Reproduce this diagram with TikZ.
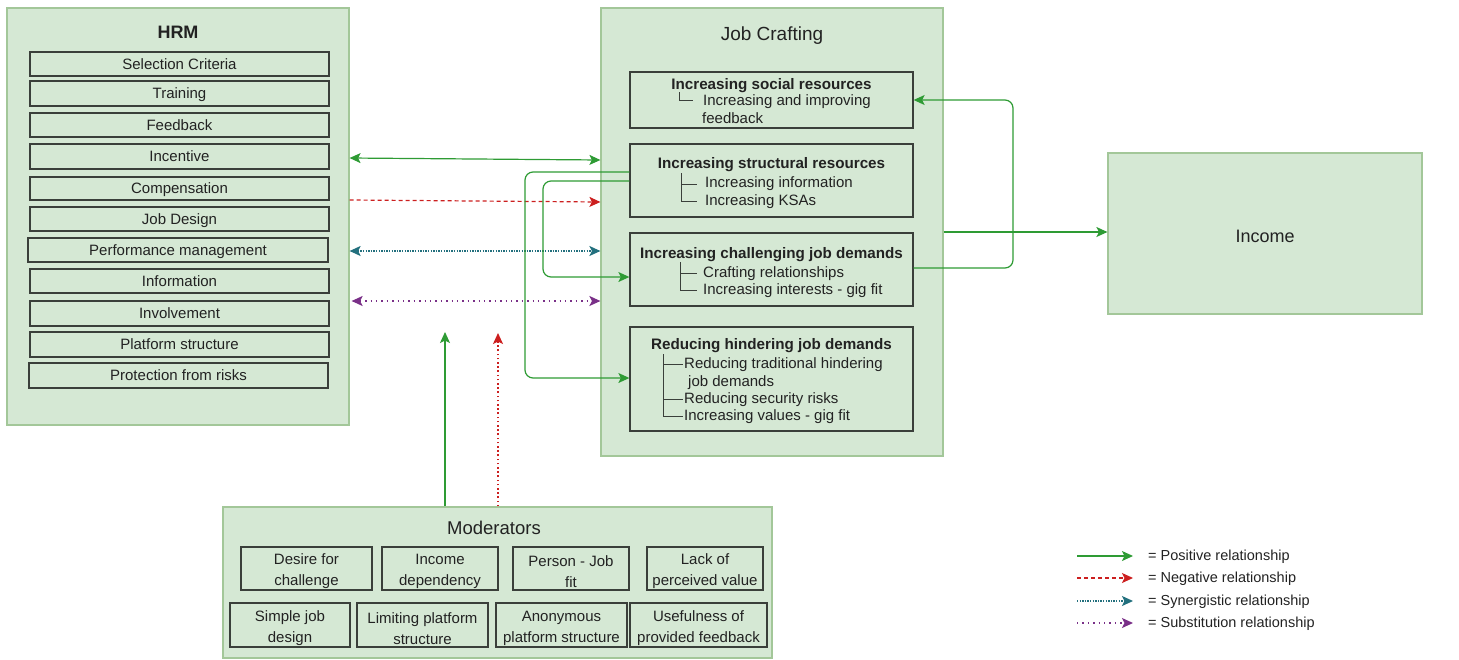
\documentclass[tikz,border=0pt]{standalone}
\usepackage{fontspec}
\setmainfont{Liberation Sans}
\usetikzlibrary{arrows.meta}

\definecolor{panelfill}{HTML}{D5E8D4}
\definecolor{panelline}{HTML}{A3C799}
\definecolor{boxline}{HTML}{3A3F3A}
\definecolor{inktext}{HTML}{222222}
\definecolor{poscol}{HTML}{2E9B34}
\definecolor{negcol}{HTML}{CC1F1F}
\definecolor{syncol}{HTML}{23707E}
\definecolor{subcol}{HTML}{7A3088}

\tikzset{
  >={Stealth[length=11pt,width=10pt,inset=2.5pt]},
  panel/.style={draw=panelline, fill=panelfill, line width=1.2pt, inner sep=0pt},
  itembox/.style={draw=boxline, line width=1.3pt, inner sep=0pt, text=inktext,
    text height=11pt, text depth=0.5pt, font=\fontsize{15}{18}\selectfont},
  modbox/.style={draw=boxline, line width=1.3pt, inner sep=0pt},
  modtext/.style={text=inktext, inner sep=0pt, align=center, font=\fontsize{15}{21}\selectfont},
  subbox/.style={draw=boxline, line width=1.3pt, inner sep=0pt},
  ttl/.style={text=inktext, inner sep=0pt, font=\fontsize{18}{20}\selectfont},
  subttl/.style={text=inktext, inner sep=0pt, anchor=mid, yshift=-3pt, font=\fontsize{15.2}{18}\selectfont\bfseries},
  subline/.style={text=inktext, inner sep=0pt, anchor=mid west, yshift=-3pt, font=\fontsize{15}{18}\selectfont},
  tree/.style={draw=boxline, line width=0.8pt},
  posarrow/.style={draw=poscol, line width=1.2pt, ->, rounded corners=8pt},
  negarrow/.style={draw=negcol, line width=1.2pt, ->, dash pattern=on 4pt off 3pt},
  negdots/.style={draw=negcol, line width=1.4pt, ->, dash pattern=on 1.6pt off 2.6pt},
  synarrow/.style={draw=syncol, line width=1.3pt, <->, dash pattern=on 1.4pt off 1.2pt},
  subarrow/.style={draw=subcol, line width=1.3pt, <->, dash pattern=on 1.4pt off 4pt},
  legtext/.style={text=inktext, inner sep=0pt, anchor=mid west, yshift=-2pt, font=\fontsize{14.5}{18}\selectfont},
}

\begin{document}
\begin{tikzpicture}[x=1pt,y=-1pt]
\useasboundingbox (0,0) rectangle (1459,659);

% ---------------- HRM panel ----------------
\node[panel, minimum width=342pt, minimum height=417pt] (hrm) at (178,216.5) {};
\node[ttl, font=\fontsize{18}{20}\selectfont\bfseries] (hrmt) at (178,32) {HRM};
\node[itembox, minimum width=299pt, minimum height=24pt] (sel)  at (179.5,64)   {Selection Criteria};
\node[itembox, minimum width=299pt, minimum height=25pt] (trn)  at (179.5,93.5) {Training};
\node[itembox, minimum width=299pt, minimum height=24pt] (fbk)  at (179.5,125)  {Feedback};
\node[itembox, minimum width=299pt, minimum height=25pt] (inc)  at (179.5,156.5){Incentive};
\node[itembox, minimum width=299pt, minimum height=23pt] (cmp)  at (179.5,188.5){Compensation};
\node[itembox, minimum width=299pt, minimum height=24pt] (jd)   at (179.5,219)  {Job Design};
\node[itembox, minimum width=300pt, minimum height=24pt] (perf) at (178,250)    {Performance management};
\node[itembox, minimum width=299pt, minimum height=24pt] (info) at (179.5,281)  {Information};
\node[itembox, minimum width=299pt, minimum height=25pt] (inv)  at (179.5,313.5){Involvement};
\node[itembox, minimum width=299pt, minimum height=25pt] (plat) at (179.5,344.5){Platform structure};
\node[itembox, minimum width=299pt, minimum height=25pt] (prot) at (178.5,375.5){Protection from risks};

% ---------------- Job Crafting panel ----------------
\node[panel, minimum width=342pt, minimum height=448pt] (jc) at (772,232) {};
\node[ttl, font=\fontsize{19}{21}\selectfont] (jct) at (772,36) {Job Crafting};

\node[subbox, minimum width=283pt, minimum height=56pt]  (soc) at (771.5,100)   {};
\node[subbox, minimum width=283pt, minimum height=73pt]  (str) at (771.5,180.5) {};
\node[subbox, minimum width=283pt, minimum height=73pt]  (chl) at (771.5,269.5) {};
\node[subbox, minimum width=283pt, minimum height=104pt] (red) at (771.5,379)   {};

% social resources
\node[subttl] (soct) at (771.5,84) {Increasing social resources};
\node[subline] (soc1) at (703,100) {Increasing and improving};
\node[subline] (soc2) at (702,118) {feedback};
\draw[tree] (679,92) -- (679,100) -- (693,100);

% structural resources
\node[subttl] (strt) at (771.5,163) {Increasing structural resources};
\node[subline] (str1) at (705,182) {Increasing information};
\node[subline] (str2) at (705,200) {Increasing KSAs};
\draw[tree] (681,173) -- (681,201) -- (697,201);
\draw[tree] (681,184) -- (697,184);

% challenging job demands
\node[subttl] (chlt) at (771.5,253) {Increasing challenging job demands};
\node[subline] (chl1) at (703,272) {Crafting relationships};
\node[subline] (chl2) at (703,289) {Increasing interests - gig fit};
\draw[tree] (680,262) -- (680,290) -- (697,290);
\draw[tree] (680,273) -- (697,273);

% hindering job demands
\node[subttl] (redt) at (771.5,344) {Reducing hindering job demands};
\node[subline] (red1) at (684,363) {Reducing traditional hindering};
\node[subline] (red2) at (688,381) {job demands};
\node[subline] (red3) at (684,398) {Reducing security risks};
\node[subline] (red4) at (684,415) {Increasing values - gig fit};
\draw[tree] (663,354) -- (663,416) -- (683,416);
\draw[tree] (663,364) -- (683,364);
\draw[tree] (663,399) -- (683,399);

% ---------------- Income ----------------
\node[panel, minimum width=314pt, minimum height=161pt] (inco) at (1265,233.5) {};
\node[ttl] (incot) at (1265,236) {Income};

% ---------------- Moderators ----------------
\node[panel, minimum width=549pt, minimum height=151pt] (mod) at (497.5,582.5) {};
\node[ttl, font=\fontsize{18.5}{20}\selectfont] (modt) at (494,528) {Moderators};
\node[modbox, minimum width=131pt, minimum height=43pt] (m1) at (306.5,568.5) {};
\node[modbox, minimum width=116pt, minimum height=43pt] (m2) at (440,568.5)   {};
\node[modbox, minimum width=116pt, minimum height=43pt] (m3) at (571,568.5)   {};
\node[modbox, minimum width=116pt, minimum height=43pt] (m4) at (705,568.5)   {};
\node[modbox, minimum width=120pt, minimum height=44pt] (m5) at (290,625)     {};
\node[modbox, minimum width=131pt, minimum height=44pt] (m6) at (422.5,625)   {};
\node[modbox, minimum width=131pt, minimum height=44pt] (m7) at (561.5,625)   {};
\node[modbox, minimum width=137pt, minimum height=44pt] (m8) at (698.5,625)   {};
\node[modtext] (m1t) at ([yshift=-3pt]m1) {Desire for\\challenge};
\node[modtext] (m2t) at ([yshift=-3pt]m2) {Income\\dependency};
\node[modtext] (m3t) at ([yshift=-3pt]m3) {Person - Job\\fit};
\node[modtext] (m4t) at ([yshift=-3pt]m4) {Lack of\\perceived value};
\node[modtext] (m5t) at ([yshift=-3.5pt]m5) {Simple job\\design};
\node[modtext] (m6t) at ([yshift=-3.5pt]m6) {Limiting platform\\structure};
\node[modtext] (m7t) at ([yshift=-3.5pt]m7) {Anonymous\\platform structure};
\node[modtext] (m8t) at ([yshift=-3.5pt]m8) {Usefulness of\\provided feedback};

% ---------------- Relationships ----------------
\draw[posarrow, <->] (hrm.east |- 0,158) -- (jc.west |- 0,160);
\draw[negarrow] (hrm.east |- 0,200) -- (jc.west |- 0,202);
\draw[synarrow] (hrm.east |- 0,251) -- (jc.west |- 0,251);
\draw[subarrow] ([xshift=2pt]hrm.east |- 0,301) -- (jc.west |- 0,301);

% structural resources feeding the demand boxes
\draw[posarrow] (str.west |- 0,172) -- (525,172) -- (525,378) -- (red.west |- 0,378);
\draw[posarrow] (str.west |- 0,181) -- (543,181) -- (543,277) -- (chl.west |- 0,277);
% challenging demands back to social resources
\draw[posarrow] (chl.east |- 0,268) -- (1013,268) -- (1013,100) -- (soc.east |- 0,100);
% job crafting to income
\draw[posarrow] (jc.east |- 0,232) -- (inco.west |- 0,232);

% moderating effects
\coordinate (modA) at (445,332);
\coordinate (modB) at (498,333);
\draw[posarrow] (mod.north -| modA) -- (modA);
\draw[negdots] (mod.north -| modB) -- (modB);

% ---------------- Legend ----------------
\coordinate (l1a) at (1077,556); \coordinate (l1b) at (1133,556);
\coordinate (l2a) at (1077,578); \coordinate (l2b) at (1133,578);
\coordinate (l3a) at (1077,601); \coordinate (l3b) at (1133,601);
\coordinate (l4a) at (1077,623); \coordinate (l4b) at (1133,623);
\draw[posarrow] (l1a) -- (l1b);
\draw[negarrow] (l2a) -- (l2b);
\draw[synarrow, ->] (l3a) -- (l3b);
\draw[subarrow, ->] (l4a) -- (l4b);
\node[legtext] (lg1) at (1148,556) {= Positive relationship};
\node[legtext] (lg2) at (1148,578) {= Negative relationship};
\node[legtext] (lg3) at (1148,601) {= Synergistic relationship};
\node[legtext] (lg4) at (1148,623) {= Substitution relationship};
\end{tikzpicture}
\end{document}
